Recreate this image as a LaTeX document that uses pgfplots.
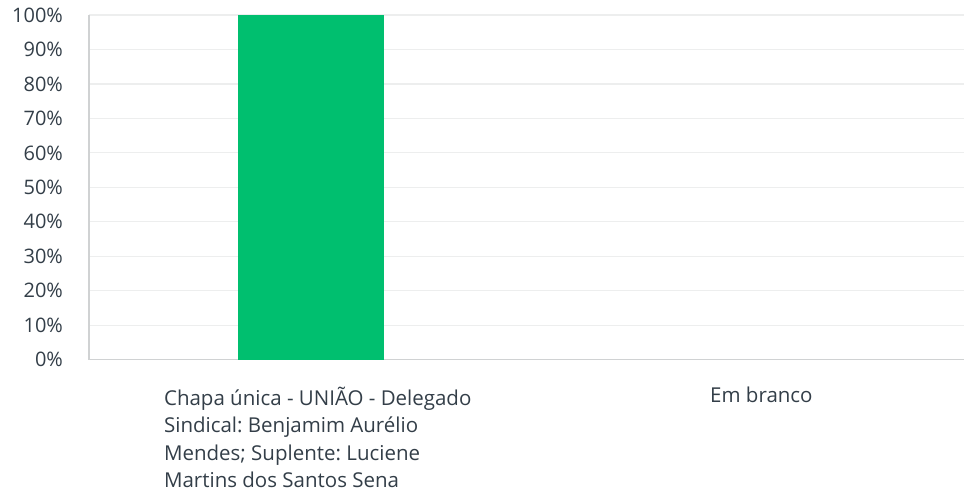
\documentclass[border=0pt]{standalone}
\usepackage{fontspec}
\setmainfont{Open Sans}
\usepackage{pgfplots}
\pgfplotsset{compat=1.18}
\definecolor{barg}{HTML}{00BF6F}
\definecolor{txt}{HTML}{333E48}
\definecolor{gridc}{HTML}{EDEEEE}
\definecolor{axc}{HTML}{D0D2D3}
\frenchspacing
\begin{document}
\fontsize{20.5bp}{27.5bp}\selectfont
\begin{tikzpicture}
\begin{axis}[
  scale only axis, width=876bp, height=345bp,
  xmin=-0.5, xmax=1.5, ymin=0, ymax=100,
  xtick={0},
  xticklabels={{Chapa única - UNIÃO - Delegado\\Sindical: Benjamim Aurélio\\Mendes; Suplente: Luciene\\Martins dos Santos Sena}},
  extra x ticks={1},
  extra x tick labels={Em branco},
  extra x tick style={xticklabel style={xshift=6bp}},
  xticklabel style={align=left, anchor=north, yshift=-20bp, xshift=10bp, text=txt, font=\fontsize{20.5bp}{27.5bp}\selectfont\frenchspacing},
  ytick={0,10,...,100},
  yticklabel={\pgfmathprintnumber{\tick}\%},
  yticklabel style={xshift=-19bp, text=txt, font=\fontsize{20bp}{27bp}\selectfont},
  /pgf/number format/assume math mode=true,
  ymajorgrids, grid style={gridc, line width=1.2bp},
  axis lines=left,
  axis line style={-, axc, line width=1.5bp},
  major tick length=0pt,
  clip=false,
]
\addplot[ybar, bar width=146bp, fill=barg, draw=none, bar shift=3bp] coordinates {(0,100)};
\end{axis}
\path ([xshift=-89bp,yshift=-140bp]current axis.south west) rectangle ([yshift=15bp]current axis.north east);
\end{tikzpicture}
\end{document}
